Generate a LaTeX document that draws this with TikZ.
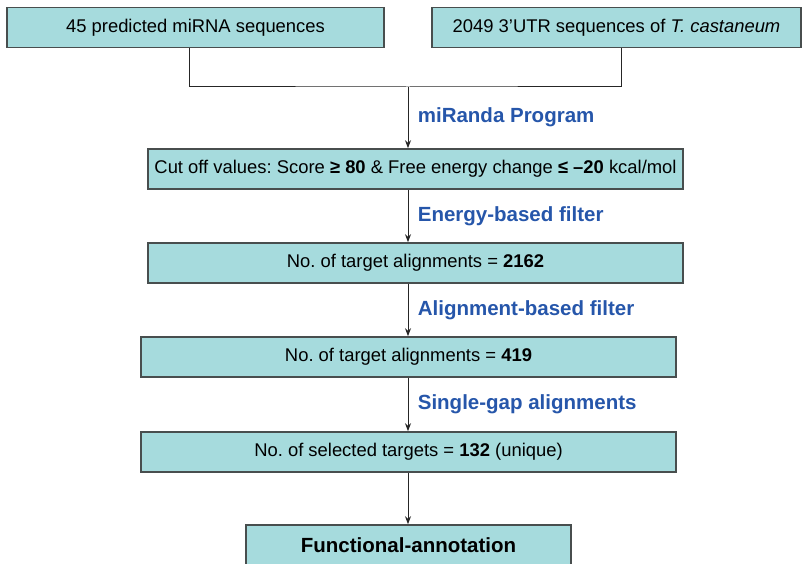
\documentclass[tikz,border=0pt]{standalone}
\usepackage{fontspec}
\setmainfont{Liberation Sans}
\usepackage{xcolor}
\definecolor{stageFill}{RGB}{166, 219, 221}
\definecolor{stageLine}{RGB}{72, 78, 78}
\definecolor{stepBlue}{RGB}{38, 86, 170}
\usetikzlibrary{positioning,arrows.meta,calc}
\frenchspacing

\begin{document}
\begin{tikzpicture}[x=1pt, y=-1pt,
  stage/.style={draw=stageLine, fill=stageFill, line width=1.6pt, rectangle,
                minimum width=535pt, minimum height=40pt, inner sep=0pt,
                align=center, font=\fontsize{18.4}{21}\selectfont},
  link/.style={line width=1pt, draw=black!85},
  arr/.style={link, -{Stealth[length=8pt, width=6pt]}},
  lbl/.style={midway, right=6pt, text=stepBlue, font=\bfseries\fontsize{20.5}{24}\selectfont}
]
\useasboundingbox (0,0) rectangle (803,564);
\node[stage, minimum width=377pt] (mirna) at (195.5, 27.5) {45 predicted miRNA sequences};
\node[stage, minimum width=369pt] (utr)   at (616.5, 27.5) {2049 3’UTR sequences of \textit{T. castaneum}};
\coordinate (join) at (408, 87);
\node[stage] (cutoff)  at (415.5, 169) {Cut off values: Score \textbf{≥ 80} \& Free energy change \textbf{≤ –20} kcal/mol};
\node[stage] (energy)  at (415.5, 263) {No. of target alignments = \textbf{2162}};
\node[stage] (aligned) at (408.5, 357) {No. of target alignments = \textbf{419}};
\node[stage] (single)  at (408.5, 452) {No. of selected targets = \textbf{132} (unique)};
\node[stage, minimum width=325pt, font=\bfseries\fontsize{20.5}{24}\selectfont] (annot) at (408.5, 545) {Functional-annotation};
% merge the two inputs
\draw[link] ([xshift=-6.5pt]mirna.south) |- (join) -| ([xshift=4.5pt]utr.south);
\draw[arr] (join) -- (join |- cutoff.north) node[lbl]{miRanda Program};
\draw[arr] (join |- cutoff.south)  -- (join |- energy.north)  node[lbl]{Energy-based filter};
\draw[arr] (join |- energy.south)  -- (join |- aligned.north) node[lbl]{Alignment-based filter};
\draw[arr] (join |- aligned.south) -- (join |- single.north)  node[lbl]{Single-gap alignments};
\draw[arr] (join |- single.south)  -- (join |- annot.north);
\end{tikzpicture}
\end{document}
